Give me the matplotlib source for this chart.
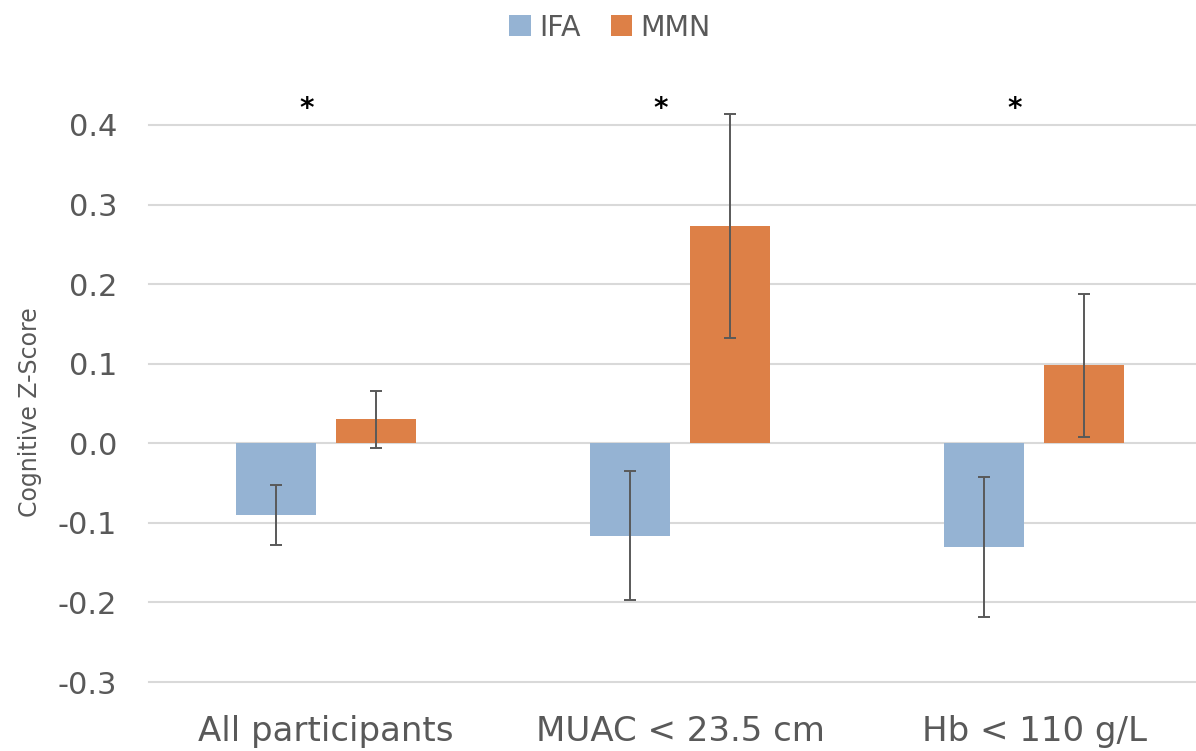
import numpy as np
import matplotlib.pyplot as plt

groups = ["All participants", "MUAC < 23.5 cm", "Hb < 110 g/L"]
ifa_mean = [-0.090, -0.116, -0.130]
ifa_err = [0.038, 0.081, 0.088]
mmn_mean = [0.030, 0.273, 0.098]
mmn_err = [0.036, 0.141, 0.090]
significant = [True, True, True]

ifa_color = '#95b3d3'
mmn_color = '#dd8047'
grey = '#595959'

plt.rcParams['font.family'] = ['DejaVu Sans']

fig = plt.figure(figsize=(11.96, 7.51), dpi=100)
# axes run past the right edge, the original picture is cropped there
ax = fig.add_axes([149 / 1196, 69 / 751, 1062 / 1196, 557 / 751])

x = np.arange(len(groups))
width = 0.226
gap = 0.0565

ax.bar(x - gap / 2 - width / 2, ifa_mean, width, color=ifa_color, label='IFA', zorder=2)
ax.bar(x + gap / 2 + width / 2, mmn_mean, width, color=mmn_color, label='MMN', zorder=2)
for pos, m, e in [(x - gap / 2 - width / 2, ifa_mean, ifa_err),
                  (x + gap / 2 + width / 2, mmn_mean, mmn_err)]:
    eb = ax.errorbar(pos, m, yerr=e, fmt='none', ecolor=grey,
                     elinewidth=1.4, capsize=4.5, capthick=1.4, zorder=3)
    for art in list(eb.lines[1]) + list(eb.lines[2]):
        art.set_clip_on(False)

for i, sig in enumerate(significant):
    if sig:
        ax.text(i - 0.055, 0.42, '*', ha='center', va='center', fontsize=20,
                fontweight='bold', color='black', clip_on=False)

ax.set_xlim(-0.5, 2.5)
ax.set_ylim(-0.3, 0.4)
ax.set_yticks(np.arange(-0.3, 0.41, 0.1))
ax.set_yticklabels(['%.1f' % v for v in np.arange(-0.3, 0.41, 0.1)])
ax.set_xticks(x)
ax.set_xticklabels(groups)
ax.yaxis.grid(True, color='#d9d9d9', linewidth=1.5, zorder=0)
ax.set_axisbelow(True)
for gl in ax.get_ygridlines():
    gl.set_clip_on(False)
for s in ax.spines.values():
    s.set_visible(False)
ax.tick_params(axis='both', length=0, colors=grey)
ax.tick_params(axis='y', labelsize=22, pad=23)
ax.tick_params(axis='x', labelsize=24.5, pad=24)

fig.text(30 / 1196, 1 - 412 / 751, 'Cognitive Z-Score', rotation=90, ha='center',
         va='center', fontsize=17, color=grey)

fig.legend(loc='upper center', bbox_to_anchor=(610 / 1196, 1.016), ncol=2, frameon=False,
           fontsize=20.5, labelcolor=grey, handlelength=0.75, handleheight=0.75,
           handletextpad=0.3, columnspacing=1.05)

fig.savefig('out.png', dpi=100)
